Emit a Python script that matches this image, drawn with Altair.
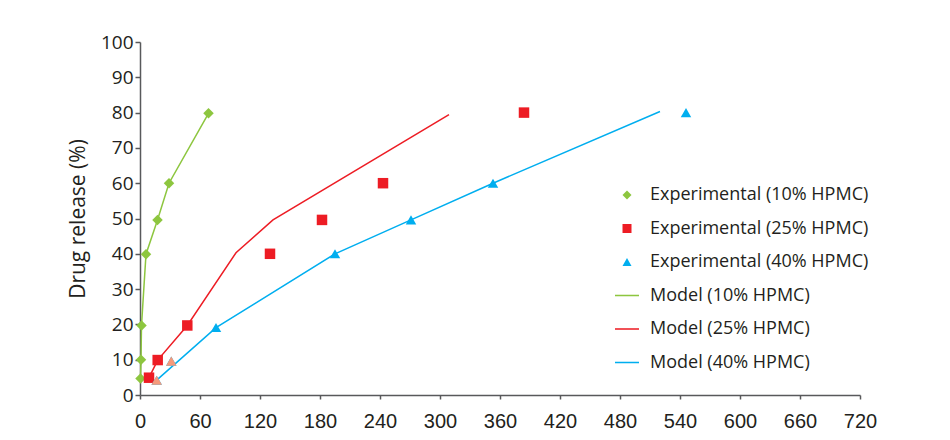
import altair as alt
import pandas as pd

series_names = [
    "Experimental (10% HPMC)",
    "Experimental (25% HPMC)",
    "Experimental (40% HPMC)",
    "Model (10% HPMC)",
    "Model (25% HPMC)",
    "Model (40% HPMC)",
]
series_colors = ["#8DC63F", "#ED1C24", "#00AEEF", "#8DC63F", "#ED1C24", "#00AEEF"]
line_symbol = "M-2.67,-0.17H2.67V0.17H-2.67Z"
series_shapes = ["diamond", "square", "triangle-up", line_symbol, line_symbol, line_symbol]

# Experimental data (time in min, release in %)
exp10_t = [0.5, 1, 1.5, 6, 17.5, 29, 68.5]
exp10_r = [4.7, 10.0, 19.7, 39.9, 49.6, 60.0, 79.8]
exp25_t = [9, 17.7, 47.3, 130, 182, 243, 384]
exp25_r = [4.9, 9.9, 19.7, 40.0, 49.6, 60.0, 80.0]
exp40_t = [16.7, 31.3, 76, 195, 271, 353, 546]
exp40_r = [4.2, 9.6, 19.1, 40.0, 49.6, 60.0, 80.0]
# first points of the 40% series appear in salmon in the original
exp40_salmon_t = [16.7, 31.3]
exp40_salmon_r = [4.2, 9.6]

# Model curves
mod10_t = [0.5, 1, 1.5, 6, 17.5, 29, 68.5]
mod10_r = [4.7, 10.0, 19.7, 39.9, 49.6, 60.0, 79.8]
mod25_t = [9, 17.7, 47.3, 96, 133, 309]
mod25_r = [4.9, 9.9, 19.7, 40.3, 49.6, 79.4]
mod40_t = [16.7, 76, 195, 271, 353, 520]
mod40_r = [4.2, 19.1, 40.0, 49.6, 60.0, 80.3]

x_ticks = list(range(0, 721, 60))
y_ticks = list(range(0, 101, 10))


def frame(ts, rs, name):
    return pd.DataFrame({"t": ts, "r": rs, "series": name})


points = pd.concat([
    frame(exp10_t, exp10_r, series_names[0]),
    frame(exp25_t, exp25_r, series_names[1]),
    frame(exp40_t, exp40_r, series_names[2]),
])
lines = pd.concat([
    frame(mod10_t, mod10_r, series_names[3]),
    frame(mod25_t, mod25_r, series_names[4]),
    frame(mod40_t, mod40_r, series_names[5]),
])
salmon = frame(exp40_salmon_t, exp40_salmon_r, series_names[2])

color_scale = alt.Scale(domain=series_names, range=series_colors)
shape_scale = alt.Scale(domain=series_names, range=series_shapes)

x_enc = alt.X(
    "t:Q",
    scale=alt.Scale(domain=[0, 720], nice=False),
    axis=alt.Axis(
        values=x_ticks, title=None, grid=False, tickSize=4,
        labelPadding=12, labelFontSize=20, labelFont="Liberation Sans",
        labelAngle=0, labelFlush=False,
    ),
)
y_enc = alt.Y(
    "r:Q",
    scale=alt.Scale(domain=[0, 100], nice=False),
    axis=alt.Axis(
        values=y_ticks, title="Drug release (%)", grid=False, tickSize=5,
        labelPadding=2, labelFontSize=19, labelFont="Open Sans", labelFlush=False,
        titleFont="Open Sans", titleFontSize=21, titleFontWeight="normal",
        titlePadding=12, titleColor="#231F20",
    ),
)

legend = alt.Legend(
    title=None,
    orient="none",
    legendX=478,
    legendY=144,
    symbolSize=81,
    labelFont="Open Sans",
    labelFontSize=18,
    labelColor="#231F20",
    labelLimit=400,
    labelOffset=14,
    rowPadding=15.5,
    symbolStrokeWidth=0,
)

line_layer = alt.Chart(lines).mark_line(strokeWidth=1.5).encode(
    x=x_enc,
    y=y_enc,
    color=alt.Color("series:N", scale=color_scale, legend=legend),
    detail="series:N",
)

point_layer = alt.Chart(points).mark_point(filled=True, size=110, opacity=1).encode(
    x=x_enc,
    y=y_enc,
    color=alt.Color("series:N", scale=color_scale, legend=legend),
    shape=alt.Shape("series:N", scale=shape_scale, legend=legend),
)

salmon_layer = alt.Chart(salmon).mark_point(
    filled=True, size=110, opacity=1, shape="triangle-up", color="#F59A7C"
).encode(x=x_enc, y=y_enc)

chart = (
    alt.layer(line_layer, point_layer, salmon_layer)
    .resolve_legend(color="shared", shape="shared")
    .properties(
        width=720,
        height=353,
        autosize=alt.AutoSizeParams(type="none"),
        padding={"left": 132, "top": 34, "right": 80, "bottom": 37},
        background="white",
    )
    .configure_view(stroke=None)
    .configure_axis(
        domainColor="#58595B", domainWidth=1.5,
        tickColor="#58595B", tickWidth=1.5,
        labelColor="#231F20",
    )
)

chart.save("out.html", embed_options={"renderer": "svg", "actions": False})
